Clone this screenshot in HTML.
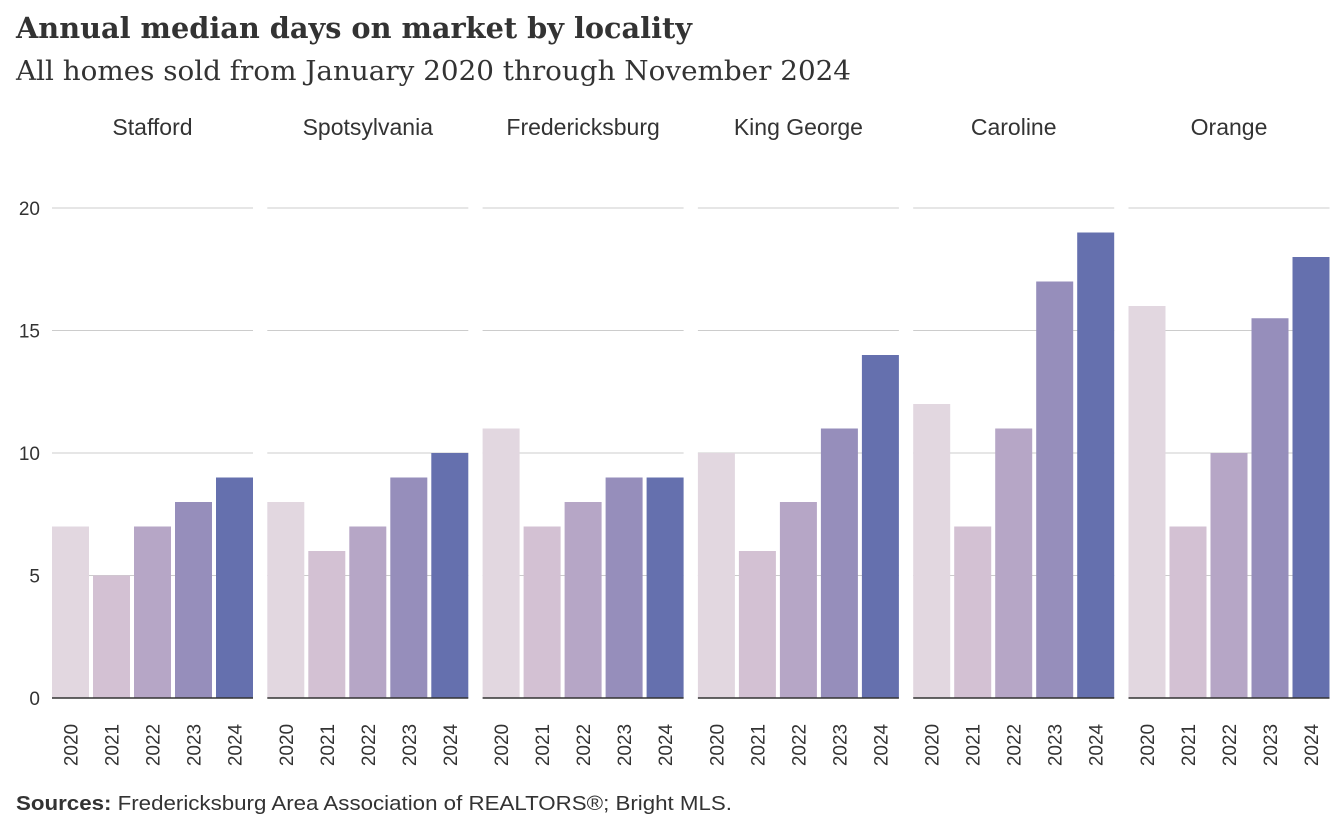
<!DOCTYPE html>
<html><head><meta charset="utf-8"><style>
body{margin:0;background:#fff;width:1344px;height:830px;overflow:hidden}
svg{display:block}
.t{font-family:"DejaVu Serif","Liberation Serif",serif}
.s{font-family:"Liberation Sans",sans-serif;fill:#333}
</style></head><body>
<svg id="c" width="1344" height="830">
<text class="t" x="16" y="38" font-size="29" font-weight="bold" fill="#333" textLength="676" lengthAdjust="spacingAndGlyphs">Annual median days on market by locality</text>
<text class="t" x="16" y="80" font-size="27" fill="#333" textLength="835" lengthAdjust="spacingAndGlyphs">All homes sold from January 2020 through November 2024</text>
<text class="s" x="16" y="810" font-size="20" textLength="716" lengthAdjust="spacingAndGlyphs"><tspan font-weight="bold">Sources:</tspan> Fredericksburg  Area Association of REALTORS®;  Bright MLS.</text>
<g id="g"></g>
</svg>
<script>
const localities=["Stafford","Spotsylvania","Fredericksburg","King George","Caroline","Orange"];
const years=["2020","2021","2022","2023","2024"];
const values=[[7,5,7,8,9],[8,6,7,9,10],[11,7,8,9,9],[10,6,8,11,14],[12,7,11,17,19],[16,7,10,15.5,18]];
const yTicks=[0,5,10,15,20];
const colors=["#e2d7e0","#d3c1d3","#b6a6c6","#968ebb","#6570ae"];
const NS="http://www.w3.org/2000/svg",g=document.getElementById('g');
const y0=698,pxPer=24.5,y=v=>y0-v*pxPer;
const panelX=i=>52+i*215.3,panelW=201,step=41,bw=37;
function mk(t,a){const e=document.createElementNS(NS,t);for(const k in a)e.setAttribute(k,a[k]);g.appendChild(e);return e;}
yTicks.forEach(t=>{const l=mk('text',{x:40,y:y(t)+7,'text-anchor':'end','font-size':19,class:'s',fill:'#555'});l.textContent=t;

});
localities.forEach((loc,i)=>{const px=panelX(i);
const h=mk('text',{x:px+panelW/2,y:135,'text-anchor':'middle','font-size':23,class:'s'});h.textContent=loc;


yTicks.forEach(t=>{if(t>0){const ln=mk('line',{x1:px,x2:px+panelW,y1:y(t),y2:y(t),stroke:'#ccc','stroke-width':1});

}});
values[i].forEach((v,j)=>{const bx=px+j*step;
const r=mk('rect',{x:bx,y:y(v),width:bw,height:v*pxPer,fill:colors[j]});


const tx=mk('text',{transform:`translate(${bx+bw/2+7},745) rotate(-90)`,'text-anchor':'middle','font-size':19,class:'s'});tx.textContent=years[j];

});
const b=mk('line',{x1:px,x2:px+panelW,y1:y0,y2:y0,stroke:'#333','stroke-width':1.5});

});
</script>
</body></html>
